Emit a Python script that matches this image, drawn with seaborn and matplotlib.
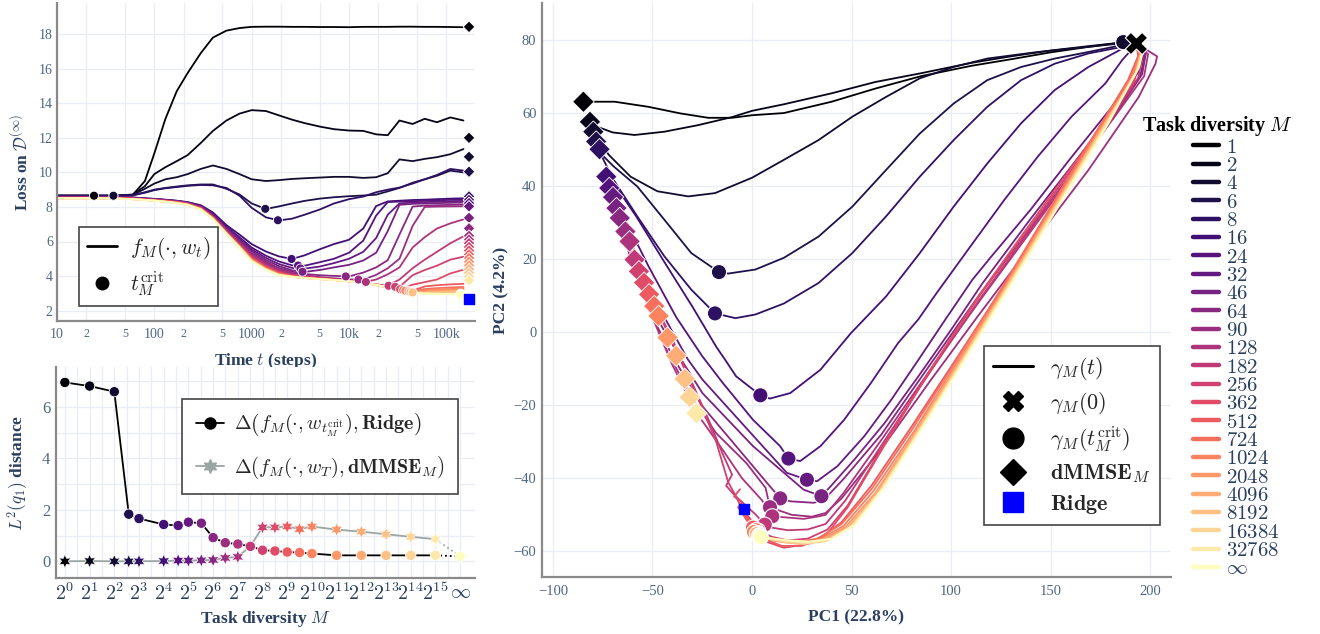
import matplotlib as mpl
mpl.use("Agg")
import matplotlib.pyplot as plt
from matplotlib.lines import Line2D
import numpy as np
import pandas as pd
import seaborn as sns

# --- task diversities -------------------------------------------------------
M_LABELS = ["1", "2", "4", "6", "8", "16", "24", "32", "46", "64", "90", "128",
            "182", "256", "362", "512", "724", "1024", "2048", "4096", "8192",
            "16384", "32768", "∞"]
M_FINITE = [1, 2, 4, 6, 8, 16, 24, 32, 46, 64, 90, 128, 182, 256, 362, 512,
            724, 1024, 2048, 4096, 8192, 16384, 32768]

# --- loss on D(inf) over training (top left) --------------------------------
T_STEPS = [10, 25, 40, 60, 80, 100, 130, 170, 220, 300, 400, 550, 750, 1000,
           1400, 1900, 2600, 3500, 5000, 7000, 10000, 14000, 19000, 25000,
           33000, 45000, 60000, 80000, 110000, 150000]

LOSS_1 = [8.65, 8.65, 8.65, 8.70, 9.50, 11.10, 13.10, 14.70, 15.75, 16.90, 17.80, 18.20, 18.35, 18.42, 18.43,
          18.43, 18.42, 18.42, 18.41, 18.41, 18.40, 18.42, 18.42, 18.42, 18.43, 18.43, 18.42, 18.42, 18.41, 18.40]
LOSS_2 = [8.65, 8.65, 8.65, 8.72, 9.20, 9.90, 10.30, 10.65, 11.00, 11.70, 12.40, 13.00, 13.40, 13.60, 13.55,
          13.30, 13.05, 12.85, 12.65, 12.50, 12.42, 12.40, 12.20, 12.15, 13.00, 12.80, 13.10, 12.90, 13.18, 13.00]
LOSS_4 = [8.65, 8.65, 8.65, 8.70, 9.05, 9.35, 9.60, 9.72, 9.90, 10.20, 10.40, 10.20, 9.90, 9.60, 9.50,
          9.55, 9.62, 9.66, 9.70, 9.74, 9.74, 9.68, 9.72, 9.95, 10.75, 10.65, 10.78, 10.88, 11.05, 11.35]
LOSS_6 = [8.65, 8.65, 8.65, 8.68, 8.85, 9.00, 9.10, 9.18, 9.25, 9.30, 9.30, 9.05, 8.72, 8.20, 7.88,
          8.03, 8.20, 8.35, 8.48, 8.56, 8.62, 8.66, 8.71, 8.90, 9.10, 9.40, 9.60, 9.80, 10.10, 10.00]
LOSS_8 = [8.65, 8.65, 8.65, 8.67, 8.82, 8.97, 9.08, 9.15, 9.22, 9.27, 9.25, 9.10, 8.65, 7.95, 7.40,
          7.22, 7.32, 7.55, 7.85, 8.20, 8.45, 8.60, 8.85, 9.00, 9.12, 9.35, 9.60, 9.85, 10.20, 10.10]
LOSS_16 = [8.60, 8.60, 8.58, 8.55, 8.50, 8.47, 8.42, 8.36, 8.28, 8.10, 7.68, 6.95, 6.40, 5.85, 5.42,
           5.14, 4.99, 5.20, 5.55, 5.85, 6.10, 6.75, 8.05, 8.32, 8.36, 8.40, 8.42, 8.45, 8.48, 8.50]
LOSS_24 = [8.59, 8.59, 8.57, 8.54, 8.49, 8.46, 8.41, 8.35, 8.26, 8.06, 7.60, 6.85, 6.25, 5.65, 5.18,
           4.85, 4.62, 4.60, 4.80, 5.00, 5.35, 6.05, 7.50, 8.28, 8.31, 8.33, 8.36, 8.38, 8.41, 8.43]
LOSS_32 = [8.58, 8.58, 8.56, 8.53, 8.48, 8.45, 8.40, 8.34, 8.25, 8.04, 7.56, 6.80, 6.17, 5.55, 5.05,
           4.70, 4.47, 4.43, 4.55, 4.75, 5.00, 5.40, 6.20, 7.55, 8.20, 8.26, 8.28, 8.30, 8.33, 8.35]
LOSS_46 = [8.57, 8.57, 8.55, 8.52, 8.47, 8.44, 8.39, 8.33, 8.24, 8.02, 7.53, 6.75, 6.08, 5.45, 4.93,
           4.58, 4.33, 4.24, 4.35, 4.50, 4.65, 4.90, 5.35, 6.60, 8.12, 8.18, 8.20, 8.22, 8.24, 8.26]
LOSS_64 = [8.56, 8.56, 8.54, 8.51, 8.46, 8.43, 8.38, 8.32, 8.22, 8.00, 7.50, 6.70, 6.00, 5.35, 4.82,
           4.47, 4.25, 4.12, 4.05, 4.01, 3.98, 4.20, 4.50, 4.92, 6.40, 8.02, 8.08, 8.10, 8.12, 8.14]
LOSS_90 = [8.55, 8.55, 8.53, 8.50, 8.45, 8.42, 8.37, 8.31, 8.21, 7.98, 7.47, 6.66, 5.94, 5.27, 4.74,
           4.40, 4.17, 4.05, 3.94, 3.87, 3.81, 3.79, 4.07, 4.45, 5.00, 6.90, 8.00, 8.02, 8.03, 8.04]
LOSS_128 = [8.54, 8.54, 8.52, 8.49, 8.44, 8.41, 8.36, 8.30, 8.20, 7.96, 7.44, 6.62, 5.89, 5.20, 4.67,
            4.33, 4.11, 4.00, 3.90, 3.82, 3.74, 3.64, 3.80, 4.10, 4.50, 5.65, 6.25, 6.75, 7.05, 7.28]
LOSS_182 = [8.53, 8.53, 8.51, 8.48, 8.43, 8.40, 8.35, 8.29, 8.19, 7.94, 7.42, 6.59, 5.84, 5.14, 4.61,
            4.27, 4.06, 3.97, 3.88, 3.80, 3.72, 3.62, 3.52, 3.44, 3.80, 4.45, 4.95, 5.40, 5.90, 6.30]
LOSS_256 = [8.53, 8.53, 8.51, 8.48, 8.43, 8.39, 8.34, 8.28, 8.18, 7.93, 7.40, 6.56, 5.80, 5.09, 4.56,
            4.23, 4.03, 3.95, 3.87, 3.79, 3.71, 3.61, 3.50, 3.38, 3.38, 4.05, 4.35, 4.60, 4.95, 5.12]
LOSS_362 = [8.52, 8.52, 8.50, 8.47, 8.42, 8.39, 8.33, 8.27, 8.17, 7.92, 7.38, 6.54, 5.77, 5.05, 4.52,
            4.19, 4.01, 3.93, 3.86, 3.79, 3.71, 3.61, 3.49, 3.36, 3.24, 3.50, 3.65, 3.80, 4.15, 4.37]
LOSS_512 = [8.52, 8.52, 8.50, 8.47, 8.42, 8.38, 8.33, 8.26, 8.16, 7.91, 7.37, 6.52, 5.74, 5.01, 4.49,
            4.16, 4.00, 3.92, 3.85, 3.78, 3.71, 3.61, 3.49, 3.36, 3.22, 3.15, 3.40, 3.47, 3.52, 3.55]
LOSS_724 = [8.51, 8.51, 8.49, 8.46, 8.41, 8.38, 8.32, 8.25, 8.15, 7.90, 7.36, 6.50, 5.72, 4.98, 4.46,
            4.14, 3.99, 3.91, 3.84, 3.78, 3.71, 3.61, 3.49, 3.35, 3.21, 3.12, 3.25, 3.30, 3.34, 3.37]
LOSS_1024 = [8.51, 8.51, 8.49, 8.46, 8.41, 8.37, 8.32, 8.25, 8.15, 7.89, 7.35, 6.49, 5.70, 4.95, 4.44,
             4.12, 3.98, 3.90, 3.84, 3.78, 3.70, 3.60, 3.49, 3.35, 3.20, 3.09, 3.18, 3.23, 3.26, 3.29]
LOSS_2048 = [8.51, 8.51, 8.49, 8.46, 8.41, 8.37, 8.31, 8.24, 8.14, 7.88, 7.34, 6.48, 5.69, 4.93, 4.42,
             4.10, 3.97, 3.90, 3.83, 3.77, 3.70, 3.60, 3.49, 3.35, 3.20, 3.07, 3.12, 3.17, 3.20, 3.22]
LOSS_4096 = [8.50, 8.50, 8.49, 8.46, 8.41, 8.37, 8.31, 8.23, 8.13, 7.87, 7.33, 6.47, 5.68, 4.91, 4.40,
             4.09, 3.97, 3.89, 3.83, 3.77, 3.70, 3.60, 3.49, 3.34, 3.19, 3.06, 3.06, 3.10, 3.13, 3.15]
LOSS_8192 = [8.50, 8.50, 8.48, 8.45, 8.40, 8.36, 8.30, 8.23, 8.13, 7.86, 7.32, 6.46, 5.67, 4.89, 4.39,
             4.07, 3.96, 3.89, 3.83, 3.77, 3.70, 3.60, 3.48, 3.34, 3.19, 3.05, 3.02, 3.05, 3.07, 3.09]
LOSS_16384 = [8.50, 8.50, 8.48, 8.45, 8.40, 8.36, 8.30, 8.22, 8.12, 7.86, 7.31, 6.46, 5.66, 4.88, 4.38,
              4.06, 3.96, 3.89, 3.82, 3.77, 3.70, 3.60, 3.48, 3.33, 3.18, 3.05, 3.00, 2.99, 2.98, 2.98]
LOSS_32768 = [8.50, 8.50, 8.48, 8.45, 8.40, 8.36, 8.30, 8.22, 8.12, 7.85, 7.31, 6.45, 5.66, 4.87, 4.37,
              4.06, 3.95, 3.88, 3.82, 3.77, 3.70, 3.60, 3.48, 3.33, 3.18, 3.05, 2.99, 2.97, 2.96, 2.95]
LOSS_INF = [8.50, 8.50, 8.48, 8.45, 8.40, 8.36, 8.30, 8.22, 8.12, 7.85, 7.30, 6.45, 5.65, 4.85, 4.36,
            4.05, 3.95, 3.88, 3.82, 3.77, 3.70, 3.60, 3.50, 3.37, 3.20, 3.05, 2.99, 2.96, 2.94, 2.93]

CRIT_T = [24, 38, 38, 1380, 1860, 2570, 3000, 3170, 3330, 9270, 12500, 14900, 25500, 29800,
          33500, 39500, 36000, 38000, 41000, 43000, 45000, 140000, 140000, 140000]
CRIT_LOSS = [8.65, 8.65, 8.65, 7.89, 7.23, 4.99, 4.61, 4.44, 4.25, 3.98, 3.80, 3.66, 3.44, 3.38,
             3.24, 3.18, 3.19, 3.15, 3.11, 3.08, 3.05, 2.98, 2.95, 2.93]
END_STEP = 171000
DMMSE_LOSS = [18.42, 12.00, 10.90, 10.04, 8.61, 8.41, 8.22, 8.03, 7.37, 6.76, 6.33, 6.11, 5.90,
              5.68, 5.47, 5.25, 5.04, 4.82, 4.61, 4.39, 4.18, 3.96, 3.75]
RIDGE_LOSS = 2.70

# --- L2 distances (bottom left) ----------------------------------------------
DIST_RIDGE = [6.95, 6.81, 6.59, 1.83, 1.66, 1.43, 1.39, 1.52, 1.48, 0.92, 0.72, 0.67, 0.58, 0.43,
              0.40, 0.36, 0.34, 0.30, 0.23, 0.23, 0.23, 0.23, 0.23, 0.19]
DIST_DMMSE = [0.00, 0.01, 0.00, 0.00, 0.00, 0.01, 0.03, 0.03, 0.04, 0.05, 0.13, 0.17, 0.59, 1.32,
              1.32, 1.35, 1.25, 1.35, 1.23, 1.15, 1.05, 0.95, 0.86, 0.19]

# --- PCA trajectories (right) ------------------------------------------------
PATH_1 = [(193, 79), (186, 79.2), (169, 78), (150, 76.5), (130, 74.6), (110, 72.8), (85, 70), (62, 66.6),
          (40, 63), (16, 59.9), (0, 59.3), (-10, 58.6), (-22, 58.6), (-36, 59.8), (-52, 61.6), (-69, 63),
          (-84.7, 63)]
PATH_2 = [(193, 79), (186, 79.2), (169, 78.2), (150, 77), (130, 75.4), (110, 73.6), (85, 70.8), (62, 68.4),
          (40, 65.3), (16, 62.3), (0, 60.5), (-10, 58.8), (-27, 56.6), (-44, 54.8), (-59, 53.9), (-70, 54.6),
          (-77, 56), (-81.4, 57.5)]
PATH_4 = [(193, 79), (186, 79), (169, 78), (143.6, 76.6), (118.2, 74.8), (101.3, 72.5), (84.3, 69.4),
          (67.3, 64.3), (50.4, 58.9), (33.4, 52.5), (16, 47.1), (0, 42.2), (-18.6, 38), (-32, 37.1),
          (-47.5, 38.5), (-61, 42.5), (-72, 48.5), (-79.7, 54.8)]
PATH_6 = [(193, 79), (186, 78.5), (169, 76.6), (152.1, 74.8), (135.2, 72.5), (118.2, 68.9), (101.3, 62.5),
          (84.3, 54.3), (67.3, 44.3), (50.4, 34.3), (33.4, 26.1), (16, 20.3), (1.7, 17.1), (-11.9, 16),
          (-16.6, 16.4), (-30.5, 21.6), (-44, 30.7), (-57.6, 39.8), (-69.5, 45.3), (-75.4, 48.5), (-78.3, 52.1)]
PATH_8 = [(193, 79), (186, 78), (169, 76.2), (152.1, 73.4), (135.2, 68.9), (118.2, 61.6), (101.3, 52.5),
          (84.3, 42.5), (67.3, 31.6), (50.4, 21.6), (33.4, 13.4), (16, 7.8), (1.7, 4.8), (-8.3, 3.8),
          (-18.6, 5.1), (-30.5, 11.6), (-44, 20.7), (-57.6, 31.6), (-69.5, 41.6), (-74.6, 47.1), (-76.6, 50)]
PATH_16 = [(193, 79), (186, 77.5), (169, 72.5), (152.1, 66.2), (135.2, 57.1), (118.2, 46.1), (101.3, 34.3),
           (84.3, 21.6), (67.3, 9.7), (49.7, -0.3), (34.4, -10.3), (19.2, -16.7), (9, -18.2), (4.2, -17.3),
           (-8, -12.1), (-13.6, -7.5), (-18, -4), (-30, 7), (-45, 20), (-58, 31.5), (-68, 39.5), (-73.2, 42.5)]
PATH_24 = [(193, 79), (192.7, 78.5), (186, 74.4), (177.5, 68), (160.5, 58.9), (143.6, 48), (126.7, 36.1),
           (109.7, 23.4), (92.8, 10.7), (83.6, 3.5), (73.4, -3), (59.8, -13.9), (46.3, -24), (34.4, -31.2),
           (24.2, -35.3), (18.3, -34.6), (14.1, -31.2), (0.5, -24), (-14.7, -13.9), (-25, -6.6), (-38, 4),
           (-52, 18), (-63, 30), (-71.7, 39.4)]
PATH_32 = [(193, 79), (196.5, 75.5), (194, 71), (180, 61), (160, 47.5), (140, 33.5), (120, 20.5),
           (110.7, 14.3), (97.1, 3.4), (83.6, -7.6), (70, -18.5), (56.4, -28.5), (42.9, -36.7), (32.7, -40.8),
           (27.6, -40.4), (17.5, -38.5), (0, -28), (-24.9, -13), (-32.2, -7.5), (-45, 5), (-56, 18), (-64, 29),
           (-69.8, 36.9)]
PATH_46 = [(193, 79), (197.5, 76), (195, 70), (180, 59), (160, 45), (140, 31), (116, 13.5), (100.5, 1),
           (83.6, -12.1), (66.6, -24.9), (51.4, -34.9), (39.5, -42.2), (34.9, -44.9), (25.9, -43.1),
           (0.5, -31.2), (-24.9, -16.7), (-35.6, -7.5), (-48, 4), (-58, 17), (-64, 27), (-68.1, 33.9)]
PATH_64 = [(193, 79), (198, 76.5), (196, 70.5), (182, 59), (160, 43), (140, 28.5), (114, 10), (90, -8.5),
           (65, -28), (46.3, -40), (36, -46), (31, -46.7), (19.2, -46.3), (14.2, -45.5), (9, -42.2),
           (-8, -31.2), (-24.9, -20.3), (-39, -7.5), (-50, 4), (-60, 18), (-64.5, 27), (-66.4, 31.2)]
PATH_90 = [(193, 79), (203.5, 75.4), (202.7, 73.4), (194.3, 64.3), (169, 44.3), (140, 23.5), (113, 4),
           (90, -13), (65, -32), (45, -45.5), (37, -49.5), (30, -50.5), (20, -50), (12, -48.5), (9, -47.9),
           (6.8, -42.6), (-2.9, -35.8), (-18.1, -27.6), (-30, -18), (-42, -6), (-52, 7), (-60, 19),
           (-63.6, 27.5)]
PATH_128 = [(193, 79), (199, 76), (197, 70), (183, 59.5), (160, 42.5), (140, 27.5), (115, 9), (90, -10),
            (65, -29.5), (46, -44), (37, -50), (32.7, -50.5), (25.9, -51.1), (19.2, -50.8), (10.2, -50.4),
            (5, -46), (-5, -40), (-15, -32), (-28, -22), (-40, -9), (-50, 4), (-58, 16), (-61.5, 24.8)]
PATH_182 = [(193, 79), (196, 75), (194, 69.5), (180, 58), (160, 43), (140, 28), (115, 9.5), (90, -10.5),
            (65, -31), (47, -46), (37, -52.5), (28, -54), (18, -54.2), (10, -53.5), (6.4, -52.7), (2, -50),
            (-4, -47), (-9, -44.5), (-13, -42), (-10, -39), (-15, -33), (-21, -25), (-30, -14), (-40, -2),
            (-50, 9), (-56, 16), (-59, 19.8)]
PATH_256 = [(193, 79), (195, 75), (192, 68.5), (178, 57.5), (158, 42.5), (138, 27.5), (115, 10.5), (90, -10),
            (66, -31), (48, -47.5), (38, -54), (28, -56.5), (18, -57), (10, -56), (3, -54.3), (-1, -51),
            (-5, -48.5), (-8, -45), (-12, -41), (-18, -30), (-28, -17), (-40, -3), (-50, 9), (-56.8, 16.6)]
PATH_362 = [(193, 79), (194.5, 75), (191, 68), (175, 56), (155, 41), (135, 26), (114, 10), (90, -10),
            (66, -31.5), (48, -48), (38, -55), (28, -58), (16, -59), (8, -57.5), (2, -55), (-1, -52),
            (-4, -50), (-7, -48), (-5, -46.5), (-9, -45), (-6, -43)]
PATH_512 = [(193, 79), (194, 75.5), (189, 69), (170, 52), (150, 33.5), (135, 20), (121, 8), (100, -9.5),
            (80, -26), (60, -42), (45, -52), (35, -56), (25, -58.5), (15, -58.5), (8, -57), (3, -55.5),
            (-2, -52), (-5, -49.5), (-3, -48), (-6, -47), (-4, -49), (0.5, -53.5)]
PATH_724 = [(193, 79), (194.5, 76), (190, 69.5), (172, 54), (152, 36), (136, 21.5), (122, 9), (100, -10),
            (80, -27), (60, -43), (45, -52.5), (33, -56.5), (22, -57.5), (12, -57), (6, -56.2), (2, -54.2)]
PATH_1024 = [(193, 79), (195, 76), (191, 69.5), (173, 54), (153, 36), (137, 21.5), (123, 9), (101, -10),
             (81, -27.5), (61, -43.5), (46, -53), (34, -56.8), (22, -57.8), (12, -57.2), (5, -56), (1, -54.7)]
PATH_2048 = [(193, 79), (195.5, 76.5), (192, 70), (174, 54.5), (154, 36.5), (138, 22), (124, 9.5), (102, -10),
             (82, -27.5), (62, -44), (47, -53.3), (35, -57), (24, -57.5), (14, -57), (7, -56), (3, -55)]
PATH_4096 = [(193, 79), (196, 77), (192.5, 70.5), (175, 55), (155, 37), (139, 22.5), (125, 10), (103, -9.5),
             (83, -27), (63, -44), (48, -53.5), (36, -57), (25, -57.7), (15, -57.2), (8, -56.3), (2.5, -55.2)]
PATH_8192 = [(193, 79), (196, 77.5), (193, 71), (176, 55.5), (156, 37.5), (140, 23), (126, 10.5), (104, -9),
             (84, -26.5), (64, -43.5), (49, -53.5), (37, -57.2), (26, -58), (16, -57.5), (9, -56.6), (4, -55.5)]
PATH_16384 = [(193, 79), (196.5, 77.5), (193.5, 71.5), (177, 56), (157, 38), (141, 23.5), (127, 11),
              (105, -8.5), (85, -26), (65, -43), (50, -53.2), (38, -57), (27, -57.8), (17, -57.3), (10, -56.8),
              (3.5, -55.8)]
PATH_32768 = [(193, 79), (197, 78), (194, 72), (178, 56.5), (158, 38.5), (142, 24), (128, 11.5), (106, -8),
              (86, -25.5), (66, -42.5), (51, -53), (39, -56.8), (28, -57.6), (18, -57.2), (10, -56.5), (4.2, -56)]
PATH_INF = [(193, 79), (197, 78.5), (194.5, 72.5), (179, 57), (159, 39), (143, 24.5), (129, 12), (107, -7.5),
            (87, -25), (67, -42), (52, -52.5), (40, -56.5), (29, -57.3), (19, -57), (11, -56.5), (4.4, -56.1)]

PC_START = (193, 79)
PC_RIDGE = (-4, -48.5)
PC_CRIT_X = [186.5, 186.5, 186.5, -16.6, -18.6, 4.2, 18.3, 27.6, 34.9, 14.2, 9, 10.2, 6.4, 3, 2, 0.5,
             2, 1, 3, 2.5, 4, 3.5, 4.2, 4.4]
PC_CRIT_Y = [79.3, 79.3, 79.3, 16.4, 5.1, -17.3, -34.6, -40.4, -44.9, -45.5, -47.9, -50.4, -52.7, -54.3,
             -55, -53.5, -54.2, -54.7, -55, -55.2, -55.5, -55.8, -56, -56.1]
PC_DMMSE_X = [-84.7, -81.4, -79.7, -78.3, -76.6, -73.2, -71.7, -69.8, -68.1, -66.4, -63.6, -61.5, -59,
              -56.8, -54.2, -51.7, -49.1, -46.9, -42.4, -38.1, -33.8, -31.3, -27.9]
PC_DMMSE_Y = [63.0, 57.5, 54.8, 52.1, 50.0, 42.5, 39.4, 36.9, 33.9, 31.2, 27.5, 24.8, 19.8, 16.6, 13.5,
              10.3, 7.1, 4.4, -1.5, -6.5, -12.8, -17.8, -22.2]

LOSS_CURVES = [LOSS_1, LOSS_2, LOSS_4, LOSS_6, LOSS_8, LOSS_16, LOSS_24, LOSS_32, LOSS_46, LOSS_64,
               LOSS_90, LOSS_128, LOSS_182, LOSS_256, LOSS_362, LOSS_512, LOSS_724, LOSS_1024, LOSS_2048,
               LOSS_4096, LOSS_8192, LOSS_16384, LOSS_32768, LOSS_INF]
PC_PATHS = [PATH_1, PATH_2, PATH_4, PATH_6, PATH_8, PATH_16, PATH_24, PATH_32, PATH_46, PATH_64,
            PATH_90, PATH_128, PATH_182, PATH_256, PATH_362, PATH_512, PATH_724, PATH_1024, PATH_2048,
            PATH_4096, PATH_8192, PATH_16384, PATH_32768, PATH_INF]

# --- style --------------------------------------------------------------------
sns.set_theme(style="white")
plt.rcParams["font.family"] = ["Liberation Serif", "DejaVu Serif"]
plt.rcParams["mathtext.fontset"] = "cm"

TEXT = "#2a3f5f"
TICK = "#506784"
GRID = "#e9eef6"
AXIS = "#8a8a8a"
DMMSE_GRAY = "#9aa6a4"

cmap = sns.color_palette("magma", as_cmap=True)
colors = {m: mpl.colors.to_hex(cmap(v)) for m, v in zip(M_LABELS, np.linspace(0, 1, len(M_LABELS)))}
finite_colors = [colors[m] for m in M_LABELS[:-1]]
all_colors = [colors[m] for m in M_LABELS]


def style_axes(ax, labelsize=10):
    ax.set_facecolor("white")
    for side in ["top", "right"]:
        ax.spines[side].set_visible(False)
    for side in ["left", "bottom"]:
        ax.spines[side].set_color(AXIS)
        ax.spines[side].set_linewidth(1.6)
    ax.grid(True, which="both", color=GRID, lw=0.9)
    ax.set_axisbelow(True)
    ax.tick_params(which="both", length=0, labelcolor=TICK, labelsize=labelsize)


def axis_label(fn, text, pad):
    fn(text, fontsize=12.5, fontweight="bold", color=TEXT, labelpad=pad)


fig = plt.figure(figsize=(13.2, 6.34), dpi=100)
W, H = 1320, 634
ax_loss = fig.add_axes([57 / W, 1 - 321 / H, 418 / W, 318 / H])
ax_dist = fig.add_axes([56 / W, 1 - 578 / H, 419 / W, 211 / H])
ax_pc = fig.add_axes([542 / W, 1 - 577 / H, 629 / W, 574 / H])

# ---- top left: loss curves ----
loss_df = pd.DataFrame({
    "t": np.tile(T_STEPS, len(M_LABELS)),
    "loss": np.concatenate(LOSS_CURVES),
    "M": np.repeat(M_LABELS, len(T_STEPS)),
})
style_axes(ax_loss, 10)
sns.lineplot(data=loss_df, x="t", y="loss", hue="M", hue_order=M_LABELS, palette=colors,
             estimator=None, sort=False, legend=False, linewidth=1.3, ax=ax_loss)
ax_loss.scatter(CRIT_T, CRIT_LOSS, c=all_colors, s=42, edgecolors="white", linewidths=0.6, zorder=4)
ax_loss.scatter([END_STEP] * len(DMMSE_LOSS), DMMSE_LOSS, c=finite_colors, marker="D", s=36,
                edgecolors="white", linewidths=0.7, zorder=4)
ax_loss.scatter([END_STEP], [RIDGE_LOSS], marker="s", c="#0000ff", s=44, zorder=5)
ax_loss.set_xscale("log")
ax_loss.set_xlim(10, 197000)
ax_loss.set_ylim(1.4, 19.8)
ax_loss.set_xticks([10, 100, 1000, 10000, 100000], ["10", "100", "1000", "10k", "100k"])
ax_loss.set_xticks([20, 50, 200, 500, 2000, 5000, 20000, 50000], ["2", "5"] * 4, minor=True)
ax_loss.tick_params(axis="x", which="minor", labelsize=8.5)
ax_loss.tick_params(axis="x", which="both", pad=5)
ax_loss.tick_params(axis="y", pad=3)
ax_loss.set_yticks(range(2, 19, 2))
axis_label(ax_loss.set_xlabel, r"Time $t$ (steps)", 7)
axis_label(ax_loss.set_ylabel, r"Loss on $\mathcal{D}^{(\infty)}$", 5)
loss_handles = [Line2D([], [], color="black", lw=2),
                Line2D([], [], color="black", marker="o", ls="none", ms=9)]
leg = ax_loss.legend(loss_handles, [r"$f_M(\cdot, w_t)$", r"$t_M^{\mathrm{crit}}$"], loc="lower left",
                     bbox_to_anchor=(0.053, 0.047), borderaxespad=0, fontsize=15.5, frameon=True,
                     fancybox=False, edgecolor="#444444", framealpha=1, handlelength=1.4,
                     labelspacing=0.35, borderpad=0.35, handletextpad=0.6)
leg.get_frame().set_linewidth(1.2)

# ---- bottom left: distances ----
style_axes(ax_dist, 12)
x_pos = list(np.log2(M_FINITE)) + [16]
ax_dist.plot(x_pos[:-1], DIST_DMMSE[:-1], color=DMMSE_GRAY, lw=1.3, zorder=2)
ax_dist.plot(x_pos[-2:], DIST_DMMSE[-2:], color=DMMSE_GRAY, lw=1.3, ls=":", zorder=2)
ax_dist.plot(x_pos[:-1], DIST_RIDGE[:-1], color="black", lw=1.3, zorder=2)
ax_dist.plot(x_pos[-2:], DIST_RIDGE[-2:], color="black", lw=1.3, ls=":", zorder=2)
sns.scatterplot(x=x_pos, y=DIST_DMMSE, hue=M_LABELS, hue_order=M_LABELS, palette=colors,
                marker=(6, 1, 0), s=90, edgecolor="white", linewidth=0.4, legend=False, ax=ax_dist, zorder=3)
sns.scatterplot(x=x_pos, y=DIST_RIDGE, hue=M_LABELS, hue_order=M_LABELS, palette=colors,
                marker="o", s=55, edgecolor="white", linewidth=0.6, legend=False, ax=ax_dist, zorder=4)
ax_dist.set_xlim(-0.36, 16.6)
ax_dist.set_ylim(-0.65, 7.55)
ax_dist.set_xticks(range(17), [rf"$\mathbf{{2^{{{k}}}}}$" for k in range(16)] + [r"$\mathbf{\infty}$"])
ax_dist.set_xticks(np.arange(0.5, 16.5, 1), minor=True)
ax_dist.set_yticks([0, 2, 4, 6])
ax_dist.set_yticks([1, 3, 5, 7], minor=True)
ax_dist.tick_params(axis="x", labelsize=14.5, labelcolor=TEXT, pad=4)
ax_dist.tick_params(axis="y", pad=4)
axis_label(ax_dist.set_xlabel, r"Task diversity $M$", 3)
axis_label(ax_dist.set_ylabel, r"$L^2(q_1)$ distance", 9)
dist_handles = [Line2D([], [], color="black", marker="o", ms=8, lw=1.3),
                Line2D([], [], color=DMMSE_GRAY, marker=(6, 1, 0), ms=10, lw=1.3)]
leg = ax_dist.legend(dist_handles,
                     [r"$\Delta\left(f_M(\cdot, w_{t_M^{\mathrm{crit}}}), \mathbf{Ridge}\right)$",
                      r"$\Delta\left(f_M(\cdot, w_T), \mathbf{dMMSE}_M\right)$"],
                     loc="upper right", bbox_to_anchor=(0.959, 0.848), borderaxespad=0, fontsize=14.5,
                     frameon=True, fancybox=False, edgecolor="#444444", framealpha=1, handlelength=1.4,
                     labelspacing=0.75, borderpad=0.65, handletextpad=0.5)
leg.get_frame().set_linewidth(1.2)

# ---- right: PCA trajectories ----
pc_df = pd.concat([
    pd.DataFrame({"pc1": [p[0] for p in path], "pc2": [p[1] for p in path], "M": m})
    for m, path in zip(M_LABELS, PC_PATHS)
], ignore_index=True)
style_axes(ax_pc, 10.5)
sns.lineplot(data=pc_df, x="pc1", y="pc2", hue="M", hue_order=M_LABELS, palette=colors,
             estimator=None, sort=False, legend=False, linewidth=1.3, ax=ax_pc)
ax_pc.scatter(PC_DMMSE_X, PC_DMMSE_Y, c=finite_colors, marker="D", s=120, edgecolors="white",
              linewidths=0.6, zorder=4)
ax_pc.scatter(PC_CRIT_X, PC_CRIT_Y, c=all_colors, s=120, edgecolors="white", linewidths=0.8, zorder=5)
ax_pc.scatter([PC_RIDGE[0]], [PC_RIDGE[1]], marker="s", c="#0000ff", s=60, zorder=5)
ax_pc.scatter([PC_START[0]], [PC_START[1]], marker="X", c="black", s=260, edgecolors="white",
              linewidths=0.8, zorder=6)
ax_pc.set_xlim(-105.5, 210.5)
ax_pc.set_ylim(-67, 90)
ax_pc.set_xticks(range(-100, 201, 50))
ax_pc.set_yticks(range(-60, 81, 20))
ax_pc.tick_params(axis="x", pad=6)
ax_pc.tick_params(axis="y", pad=4)
axis_label(ax_pc.set_xlabel, "PC1 (22.8%)", 8)
axis_label(ax_pc.set_ylabel, "PC2 (4.2%)", 3)
pc_handles = [Line2D([], [], color="black", lw=2.2),
              Line2D([], [], color="black", marker="X", ls="none", ms=15),
              Line2D([], [], color="black", marker="o", ls="none", ms=15),
              Line2D([], [], color="black", marker="D", ls="none", ms=13),
              Line2D([], [], color="#0000ff", marker="s", ls="none", ms=14)]
leg = ax_pc.legend(pc_handles, [r"$\gamma_M(t)$", r"$\gamma_M(0)$", r"$\gamma_M(t_M^{\mathrm{crit}})$",
                                r"$\mathbf{dMMSE}_M$", r"$\mathbf{Ridge}$"],
                   loc="upper right", bbox_to_anchor=(0.9825, 0.402), borderaxespad=0, fontsize=16,
                   frameon=True, fancybox=False, edgecolor="#444444", framealpha=1, handlelength=1.8,
                   labelspacing=0.35, borderpad=0.4, handletextpad=0.8)
leg.get_frame().set_linewidth(1.2)

# ---- outer colour legend ----
m_handles = [Line2D([], [], color=colors[m], lw=3.2) for m in M_LABELS]
m_texts = [rf"$\mathbf{{{m}}}$" for m in M_LABELS[:-1]] + [r"$\infty$"]
fig.text(1217 / W, 1 - 126 / H, r"Task diversity $M$", ha="center", va="center", fontsize=14.5,
         fontweight="bold", color="black")
fig.legend(m_handles, m_texts, loc="upper left", bbox_to_anchor=(1193 / W, 1 - 138 / H), borderaxespad=0,
           borderpad=0, frameon=False, fontsize=15, labelcolor=TEXT, handlelength=1.25,
           handletextpad=0.35, labelspacing=-0.06)

fig.savefig("out.png", dpi=100)
